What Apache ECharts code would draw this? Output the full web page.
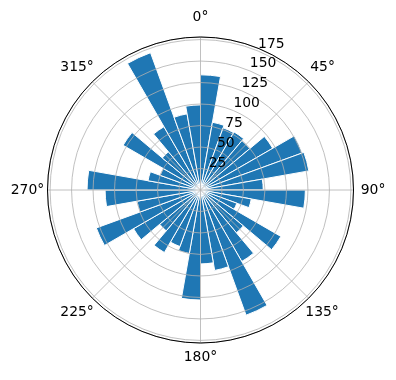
<!DOCTYPE html>
<html>
<head>
<meta charset="utf-8">
<script src="https://cdn.jsdelivr.net/npm/echarts@6/dist/echarts.min.js"></script>
<style>
html,body{margin:0;padding:0;background:#fff;}
#chart{width:396px;height:380px;}
</style>
</head>
<body>
<div id="chart"></div>
<script>
// 36 direction sectors, 10 degrees each, starting at 0 (north), clockwise
var sectors = [];
for (var i = 0; i < 36; i++) { sectors.push(String(i * 10)); }
var values = [134, 80, 77, 78, 75, 97, 126, 128, 73,
              122, 60, 45, 108, 65, 96, 155, 95, 86,
              128, 75, 70, 84, 62, 90, 129, 75, 111,
              132, 62, 50, 104, 58, 85, 170, 90, 99];
var angleTicks = [0, 45, 90, 135, 180, 225, 270, 315];
var radiusTicks = [25, 50, 75, 100, 125, 150, 175];
var rMax = 178;

var font = 'DejaVu Sans';
var fs = 13.9;
var center = [200.5, 190];
var rad = 153;

// per-label offsets so that every angle label sits centred on one circle
var pads = {
  0: [0, 0, 19, 0], 45: [0, 0, 12, 5.8], 90: [0, 0, 0, 13.2], 135: [11, 0, 0, 0.9],
  180: [13, 0, 0, 0], 225: [11, 2.8, 0, 0], 270: [0, 9.3, 0, 0], 315: [0, 2.8, 12, 0]
};
var rich = {};
angleTicks.forEach(function (a) {
  rich['a' + a] = {padding: pads[a], fontFamily: font, fontSize: fs, color: '#000'};
});

var chart = echarts.init(document.getElementById('chart'), null, {renderer: 'canvas'});
chart.setOption({
  animation: false,
  backgroundColor: '#fff',
  polar: [
    {center: center, radius: rad},
    {center: center, radius: rad},
    {center: center, radius: rad}
  ],
  angleAxis: [
    {polarIndex: 0, type: 'category', data: sectors, startAngle: 90, clockwise: true, boundaryGap: true,
     axisLine: {show: false}, axisTick: {show: false}, axisLabel: {show: false}, splitLine: {show: false}},
    {polarIndex: 1, type: 'value', min: 0, max: 360, interval: 45, startAngle: 90, clockwise: true, z: 11,
     axisLine: {show: true, lineStyle: {color: '#000', width: 1}},
     axisTick: {show: false},
     axisLabel: {show: true, margin: -6, color: '#000', fontFamily: font, fontSize: fs, rich: rich,
       formatter: function (v) { return angleTicks.indexOf(v) >= 0 ? '{a' + v + '|' + v + '°}' : ''; }},
     splitLine: {show: true, lineStyle: {color: '#b0b0b0', width: 0.8}}},
    {polarIndex: 2, type: 'value', min: 0, max: 360, startAngle: 67.5, show: false}
  ],
  radiusAxis: [
    {polarIndex: 0, type: 'value', min: 0, max: rMax, show: false},
    {polarIndex: 1, type: 'value', min: 0, max: rMax, interval: 25, z: 10,
     axisLine: {show: false}, axisTick: {show: false}, axisLabel: {show: false},
     splitLine: {show: true, lineStyle: {color: '#b0b0b0', width: 0.8}}},
    {polarIndex: 2, type: 'value', min: 0, max: rMax, interval: 25, z: 12,
     axisLine: {show: false}, axisTick: {show: false}, splitLine: {show: false},
     axisLabel: {show: true, margin: 0, color: '#000', fontFamily: font, fontSize: fs,
       align: 'left', verticalAlign: 'bottom',
       formatter: function (v) { return radiusTicks.indexOf(v) >= 0 ? String(v) : ''; }}}
  ],
  series: [{
    type: 'bar', coordinateSystem: 'polar', polarIndex: 0,
    data: values, barCategoryGap: '0%', z: 2,
    itemStyle: {color: '#1f77b4', borderColor: '#ffffff', borderWidth: 1}
  }]
});
</script>
</body>
</html>
